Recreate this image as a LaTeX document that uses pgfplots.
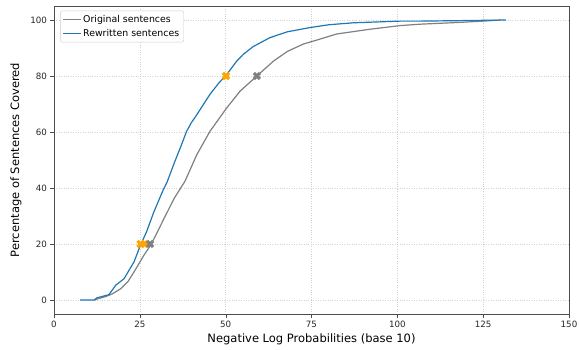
\documentclass[border=0pt]{standalone}
\usepackage{fontspec}
\setmainfont{DejaVu Sans}
\usepackage{pgfplots}
\pgfplotsset{compat=1.18}
\definecolor{mplblue}{HTML}{1F77B4}
\definecolor{mplgray}{HTML}{808080}
\definecolor{mplorange}{HTML}{FFA500}
\begin{document}
\begin{tikzpicture}
\begin{axis}[
  at={(0,0)}, anchor=south west,
  scale only axis, width=515pt, height=308pt,
  xmin=0, xmax=150, ymin=-5, ymax=105,
  xtick={0,25,50,75,100,125,150},
  ytick={0,20,40,60,80,100},
  /pgf/number format/assume math mode=true,
  tick label style={font=\fontsize{8.7}{10}\selectfont, text=black!85},
  label style={font=\fontsize{11.5}{13}\selectfont},
  xlabel={Negative Log Probabilities (base 10)},
  ylabel={Percentage of Sentences Covered},
  xlabel style={at={(axis description cs:0.5,0)}, anchor=north, yshift=-16pt},
  ylabel style={at={(axis description cs:0,0.5)}, anchor=south, yshift=29pt},
  axis line style={black!70},
  tick align=outside, major tick length=3.5pt,
  tick style={black!70},
  xtick pos=bottom, ytick pos=left,
  grid=major,
  major grid style={dotted, black!18, line width=0.45pt},
  legend style={font=\fontsize{9.4}{11}\selectfont, draw=black!20, rounded corners=2pt, at={(0.012,0.985)}, anchor=north west, row sep=1pt, inner sep=2.5pt},
  legend cell align=left,
]
\addplot[mplgray, line width=1.2pt] coordinates {
(11.7,0) (13,0.5) (15,1.2) (17,2.2) (19.4,4) (21.5,6.5) (23.3,10) (26.2,16) (28.2,19.7) (30,24) (32,29) (35,36.3) (37,40.2) (38.1,42.3) (41.6,51.9) (45.4,60.2) (50.3,68.6) (54.2,74.6) (59,79.9) (63.9,85.3) (68,88.8) (72.6,91.4) (77,93) (82.3,95) (92,96.7) (100.8,98.0) (106.6,98.5) (117.3,99.1) (125,99.6) (129.9,100)
};
\addlegendentry{Original sentences}
\addplot[mplblue, line width=1.2pt] coordinates {
(7.6,0) (11.7,0) (12.5,0.8) (13.5,1.1) (16,1.9) (18,5.3) (20.4,7.6) (23.3,13.6) (25,19) (27,24.5) (29.1,31.5) (31.8,39.3) (33,42.3) (35.2,49.5) (37,55) (38.6,60.2) (40,63.3) (41.6,66.2) (45.4,73.4) (48,77.5) (50.3,80.5) (53.2,85.3) (55.1,87.7) (58,90.5) (62.9,93.7) (68,95.8) (74.6,97.3) (80,98.3) (87.2,99.0) (100.8,99.6) (106.6,99.6) (120,99.8) (131.7,100)
};
\addlegendentry{Rewritten sentences}
\addplot[only marks, mark=x, mark size=4.3pt, mplorange, mark options={line width=3.2pt}, forget plot] coordinates {(25.2,20) (26.4,20) (50.1,80)};
\addplot[only marks, mark=x, mark size=4.3pt, mplgray, mark options={line width=3.2pt}, forget plot] coordinates {(28.0,20) (59.1,80)};
\end{axis}
\pgfresetboundingbox
\path (-54pt,-35pt) rectangle (525pt,314pt);
\end{tikzpicture}
\end{document}
